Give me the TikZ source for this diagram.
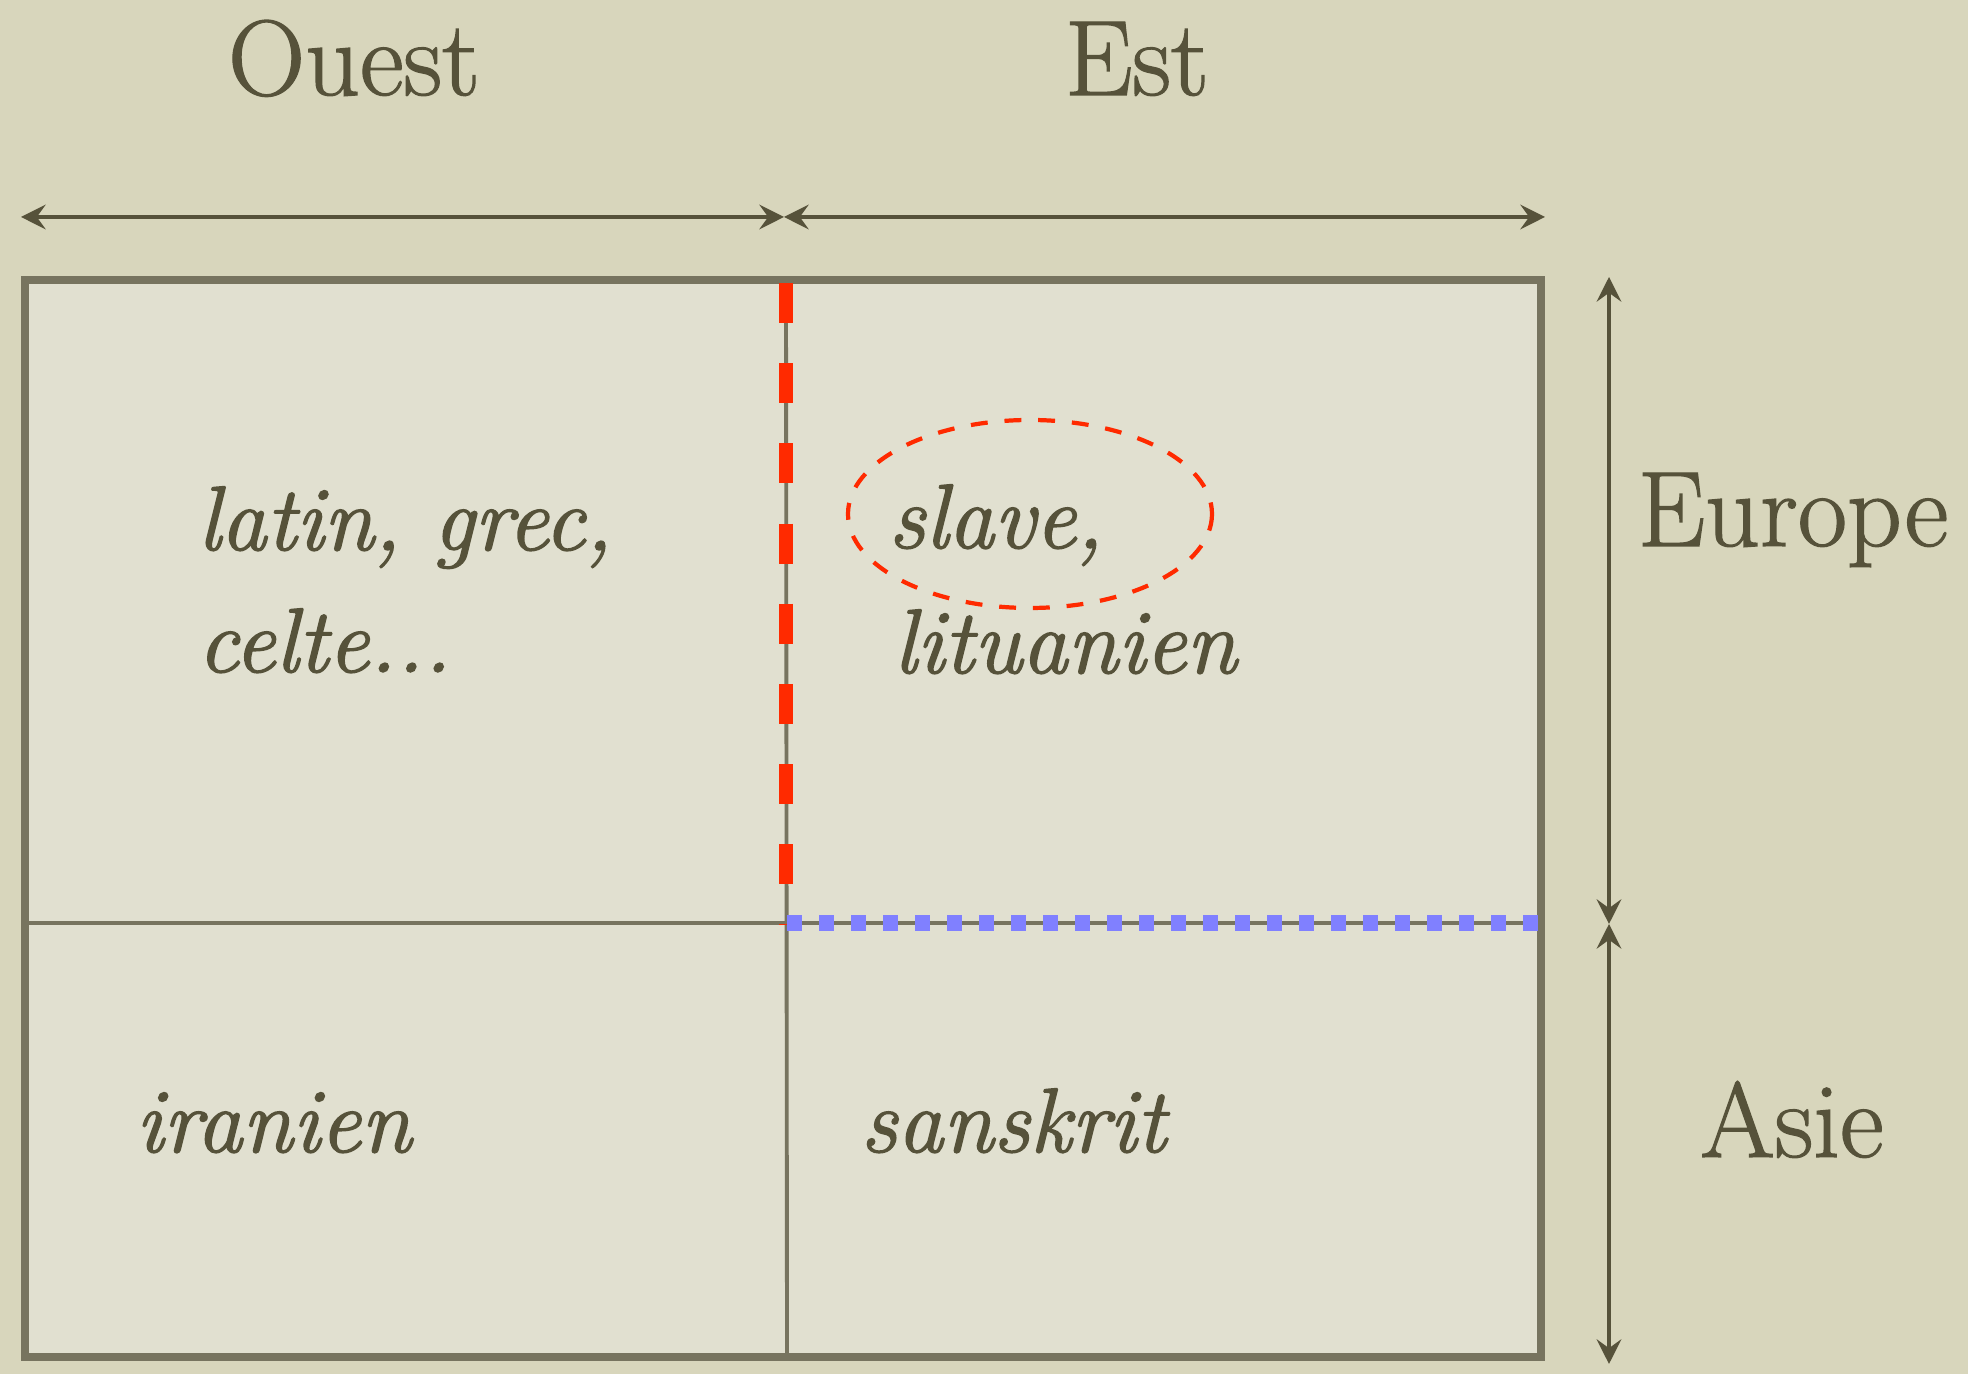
\documentclass[tikz,border=0pt]{standalone}
\usepackage{fontspec}
\usepackage{tikz}
\usetikzlibrary{calc,arrows.meta}
\newfontfamily\slidefont{Latin Modern Roman}[FakeBold=1.2, ItalicFeatures={FakeBold=1.6}]
\definecolor{paper-outer}{HTML}{D8D6BC}
\definecolor{paper-inner}{HTML}{E1E0D0}
\definecolor{ink}{HTML}{56523A}
\definecolor{frame}{HTML}{77745F}
\definecolor{cut-red}{HTML}{FF2A00}
\definecolor{cut-blue}{HTML}{8080FF}

\begin{document}
\begin{tikzpicture}[x=0.01cm, y=-0.01cm,
    >={Stealth[length=7pt, width=7pt, inset=2.5pt]},
    lang/.style={ink, inner sep=0pt, anchor=base west, font=\slidefont\fontsize{26}{30}\selectfont\itshape},
    area/.style={ink, inner sep=0pt, anchor=base, font=\slidefont\fontsize{30.5}{34}\selectfont},
    span/.style={<->, ink, line width=1.2pt}]
    \fill[paper-outer] (0,0) rectangle (1968,1374);
    \useasboundingbox (0,0) rectangle (1968,1374);

    \coordinate (nw) at (25,280);
    \coordinate (se) at (1541,1357);
    \coordinate (midtop) at (786,280);
    \coordinate (midbot) at (787,1357);
    \coordinate (midleft) at (25,923);
    \coordinate (midcut) at (786,923);
    \coordinate (midright) at (1541,923);
    \coordinate (west) at (21,217);
    \coordinate (split) at (784,217);
    \coordinate (east) at (1545,217);
    \coordinate (north) at (1609,277);
    \coordinate (border) at (1609,924);
    \coordinate (south) at (1609,1364);

    \draw[frame, line width=2pt, fill=paper-inner] (nw) rectangle (se);
    \draw[frame, line width=1.1pt] (midtop) -- (midbot);
    \draw[frame, line width=1.1pt] (midleft) -- (midright);
    \draw[cut-red, line width=4pt, dash pattern=on 11.4pt off 11.4pt] ($(midtop)+(0,3)$) -- ($(midcut)+(0,2)$);
    \draw[cut-blue, line width=4.3pt, dash pattern=on 4.3pt off 4.8pt] ($(midcut)+(1,0)$) -- (midright);
    \draw[cut-red, line width=1.2pt, dash pattern=on 4.8pt off 4.8pt] (1030,514) ellipse [x radius=182, y radius=94];

    \draw[span] (west) -- (split);
    \draw[span] (split) -- (east);
    \draw[span] (north) -- (border);
    \draw[span] (border) -- (south);

    \node[area] (ouest) at (354,95) {Ouest};
    \node[area] (est) at (1137,95) {Est};
    \node[area, anchor=base west] (europe) at (1637,546) {Europe};
    \node[area] (asie) at (1792,1157) {Asie};

    \node[lang] (latin) at (197,550) {latin, grec,};
    \node[lang] (celte) at (197,672) {celte...};
    \node[lang] (slave) at (888,548) {slave,};
    \node[lang] (litu) at (893,673) {lituanien};
    \node[lang] (iran) at (135,1152) {iranien};
    \node[lang] (sans) at (860,1152) {sanskrit};
\end{tikzpicture}
\end{document}
